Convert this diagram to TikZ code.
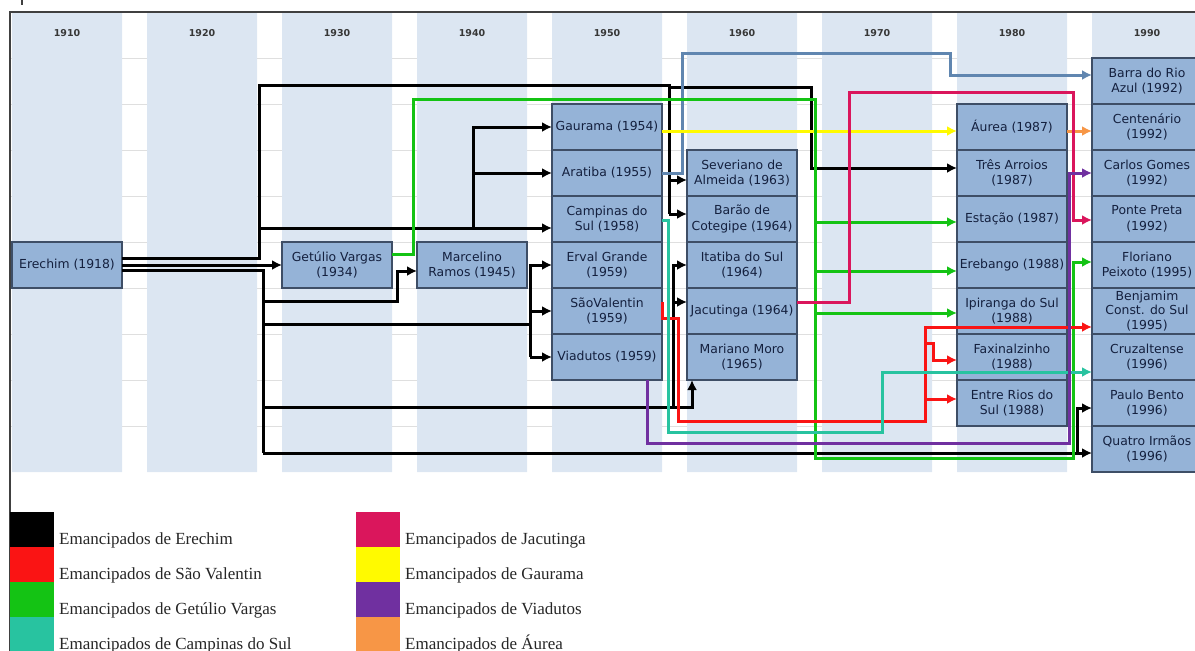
\documentclass[tikz,border=0pt]{standalone}
\usepackage{fontspec}
\setmainfont{Liberation Serif}
\newfontfamily\boxfont{DejaVu Sans}
\usepackage{tikz}
\usetikzlibrary{arrows.meta,positioning}
\definecolor{band}{RGB}{220,230,242}
\definecolor{boxfill}{RGB}{149,179,215}
\definecolor{boxline}{RGB}{62,78,102}
\definecolor{boxtext}{RGB}{20,32,62}
\definecolor{yeartext}{RGB}{55,55,55}
\definecolor{cSao}{RGB}{250,20,20}
\definecolor{cGet}{RGB}{20,195,20}
\definecolor{cCamp}{RGB}{40,195,160}
\definecolor{cJac}{RGB}{218,22,92}
\definecolor{cGau}{RGB}{255,250,0}
\definecolor{cVia}{RGB}{112,48,160}
\definecolor{cAur}{RGB}{247,150,70}
\definecolor{cAra}{RGB}{96,134,176}

\begin{document}
\begin{tikzpicture}[x=1pt,y=-1pt,box/.style={draw=boxline,line width=1.3pt,fill=boxfill,text=boxtext,minimum width=110pt,minimum height=46pt,inner sep=1pt,outer sep=0pt,align=center,font=\boxfont\fontsize{12.4}{15.5}\selectfont},yr/.style={font=\boxfont\bfseries\fontsize{9.5}{12}\selectfont,text=yeartext},lin/.style={line width=3pt},arr/.style={-{Latex[length=10pt,width=10pt]},line width=3pt},swatch/.style={minimum width=44pt,minimum height=35pt,inner sep=0pt,outer sep=0pt},legtext/.style={anchor=base west,inner sep=0pt,text=black!85,font=\fontsize{17}{20}\selectfont}]
\useasboundingbox (0,0) rectangle (1195,651);
% grid
\draw[gray!25,line width=0.8pt] (10,58)--(1195,58) (10,104)--(1195,104) (10,150)--(1195,150) (10,196)--(1195,196) (10,242)--(1195,242) (10,288)--(1195,288) (10,334)--(1195,334) (10,380)--(1195,380) (10,426)--(1195,426);
\fill[band] (12,12) rectangle (122,472) (147,12) rectangle (257,472) (282,12) rectangle (392,472) (417,12) rectangle (527,472) (552,12) rectangle (662,472) (687,12) rectangle (797,472) (822,12) rectangle (932,472) (957,12) rectangle (1067,472) (1092,12) rectangle (1202,472);
\draw[black!75,line width=1.8pt] (10,651)--(10,12)--(1195,12);
\draw[black!75,line width=1.4pt] (22,0)--(22,5);
\node[yr] (y1910) at (67,33) {1910};
\node[yr] (y1920) at (202,33) {1920};
\node[yr] (y1930) at (337,33) {1930};
\node[yr] (y1940) at (472,33) {1940};
\node[yr] (y1950) at (607,33) {1950};
\node[yr] (y1960) at (742,33) {1960};
\node[yr] (y1970) at (877,33) {1970};
\node[yr] (y1980) at (1012,33) {1980};
\node[yr] (y1990) at (1147,33) {1990};
% municipios
\node[box] (erechim) at (67,265) {Erechim (1918)};
\node[box] (getulio) at (337,265) {Getúlio Vargas\\(1934)};
\node[box] (marcelino) at (472,265) {Marcelino\\Ramos (1945)};
\node[box] (gaurama) at (607,127) {Gaurama (1954)};
\node[box,below=0pt of gaurama] (aratiba) {Aratiba (1955)};
\node[box,below=0pt of aratiba] (campinas) {Campinas do\\Sul (1958)};
\node[box,below=0pt of campinas] (erval) {Erval Grande\\(1959)};
\node[box,below=0pt of erval] (saovalentin) {SãoValentin\\(1959)};
\node[box,below=0pt of saovalentin] (viadutos) {Viadutos (1959)};
\node[box] (severiano) at (742,173) {Severiano de\\Almeida (1963)};
\node[box,below=0pt of severiano] (barao) {Barão de\\Cotegipe (1964)};
\node[box,below=0pt of barao] (itatiba) {Itatiba do Sul\\(1964)};
\node[box,below=0pt of itatiba] (jacutinga) {Jacutinga (1964)};
\node[box,below=0pt of jacutinga] (mariano) {Mariano Moro\\(1965)};
\node[box] (aurea) at (1012,127) {Áurea (1987)};
\node[box,below=0pt of aurea] (tresarroios) {Três Arroios\\(1987)};
\node[box,below=0pt of tresarroios] (estacao) {Estação (1987)};
\node[box,below=0pt of estacao] (erebango) {Erebango (1988)};
\node[box,below=0pt of erebango] (ipiranga) {Ipiranga do Sul\\(1988)};
\node[box,below=0pt of ipiranga] (faxinal) {Faxinalzinho\\(1988)};
\node[box,below=0pt of faxinal] (entrerios) {Entre Rios do\\Sul (1988)};
\node[box] (barra) at (1147,81) {Barra do Rio\\Azul (1992)};
\node[box,below=0pt of barra] (centenario) {Centenário\\(1992)};
\node[box,below=0pt of centenario] (carlos) {Carlos Gomes\\(1992)};
\node[box,below=0pt of carlos] (ponte) {Ponte Preta\\(1992)};
\node[box,below=0pt of ponte] (floriano) {Floriano\\Peixoto (1995)};
\node[box,below=0pt of floriano,inner sep=0pt,font=\boxfont\fontsize{12.4}{14.5}\selectfont] (benjamim) {Benjamim\\Const. do Sul\\(1995)};
\node[box,below=0pt of benjamim] (cruzaltense) {Cruzaltense\\(1996)};
\node[box,below=0pt of cruzaltense] (paulobento) {Paulo Bento\\(1996)};
\node[box,below=0pt of paulobento] (quatro) {Quatro Irmãos\\(1996)};
% emancipados de Erechim
\draw[lin] (erechim.east |- 0,258) -| (259,85) -| (669,214);
\draw[arr] (669,180) -- (severiano.west |- 0,180);
\draw[arr] (669,214) -- (barao.west |- 0,214);
\draw[arr] (669,87) -| (811,168) -- (tresarroios.west |- 0,168);
\draw[arr] (259,228) -- (campinas.west |- 0,228);
\draw[arr] (473,228) |- (gaurama.west);
\draw[arr] (473,173) -- (aratiba.west);
\draw[arr] (erechim) -- (getulio);
\draw[lin] (erechim.east |- 0,270) -| (263,453);
\draw[arr] (263,453) -- (quatro.west |- 0,453);
\draw[arr] (1077,453) |- (paulobento.west |- 0,408);
\draw[arr] (263,301) -| (397,271) -- (marcelino.west |- 0,271);
\draw[lin] (263,324) -- (530,324);
\draw[arr] (530,357) |- (erval.west);
\draw[arr] (530,311) -- (saovalentin.west);
\draw[arr] (530,357) -- (viadutos.west);
\draw[arr] (263,407) -| ([xshift=5pt]mariano.south west);
\draw[arr] (673,407) |- (itatiba.west);
\draw[arr] (673,302) -- (jacutinga.west |- 0,302);
% outros
\draw[arr,cAra] (aratiba.east |- 0,173) -| (682,53) -| (950,75) -- (barra.west |- 0,75);
\draw[arr,cGau] (gaurama.east |- 0,131) -- (aurea.west |- 0,131);
\draw[arr,cAur] (aurea.east |- 0,131) -- (centenario.west |- 0,131);
\draw[arr,cGet] (getulio.east |- 0,254) -| (413,99) -| (815,458) -| (1073,262) -- (floriano.west |- 0,262);
\draw[arr,cGet] (815,222) -- (estacao.west |- 0,222);
\draw[arr,cGet] (815,271) -- (erebango.west |- 0,271);
\draw[arr,cGet] (815,313) -- (ipiranga.west |- 0,313);
\draw[arr,cJac] (jacutinga.east |- 0,302) -| (849,92) -| (1073,220) -- (ponte.west |- 0,220);
\draw[arr,cSao] (saovalentin.east |- 0,302) |- (678,318) |- (925,421) |- (benjamim.west |- 0,327);
\draw[arr,cSao] (925,399) -- (entrerios.west |- 0,399);
\draw[arr,cSao] (925,343) -| (933,360) -- (faxinal.west |- 0,360);
\draw[arr,cCamp] (campinas.east |- 0,220) -| (668,432) -| (882,372) -- (cruzaltense.west |- 0,372);
\draw[arr,cVia] (viadutos.south -| 647,0) |- (1069,443) |- (carlos.west);
% legenda
\node[swatch,fill=black] (swErechim) at (32,529.5) {};
\node[swatch,fill=cSao] (swSao) at (32,564.5) {};
\node[swatch,fill=cGet] (swGet) at (32,599.5) {};
\node[swatch,fill=cCamp] (swCamp) at (32,634.5) {};
\node[swatch,fill=cJac] (swJac) at (378,529.5) {};
\node[swatch,fill=cGau] (swGau) at (378,564.5) {};
\node[swatch,fill=cVia] (swVia) at (378,599.5) {};
\node[swatch,fill=cAur] (swAur) at (378,634.5) {};
\node[legtext] (lgErechim) at ([xshift=5pt,yshift=3pt]swErechim.south east) {Emancipados de Erechim};
\node[legtext] (lgSao) at ([xshift=5pt,yshift=3pt]swSao.south east) {Emancipados de São Valentin};
\node[legtext] (lgGet) at ([xshift=5pt,yshift=3pt]swGet.south east) {Emancipados de Getúlio Vargas};
\node[legtext] (lgCamp) at ([xshift=5pt,yshift=3pt]swCamp.south east) {Emancipados de Campinas do Sul};
\node[legtext] (lgJac) at ([xshift=5pt,yshift=3pt]swJac.south east) {Emancipados de Jacutinga};
\node[legtext] (lgGau) at ([xshift=5pt,yshift=3pt]swGau.south east) {Emancipados de Gaurama};
\node[legtext] (lgVia) at ([xshift=5pt,yshift=3pt]swVia.south east) {Emancipados de Viadutos};
\node[legtext] (lgAur) at ([xshift=5pt,yshift=3pt]swAur.south east) {Emancipados de Áurea};
\end{tikzpicture}
\end{document}
